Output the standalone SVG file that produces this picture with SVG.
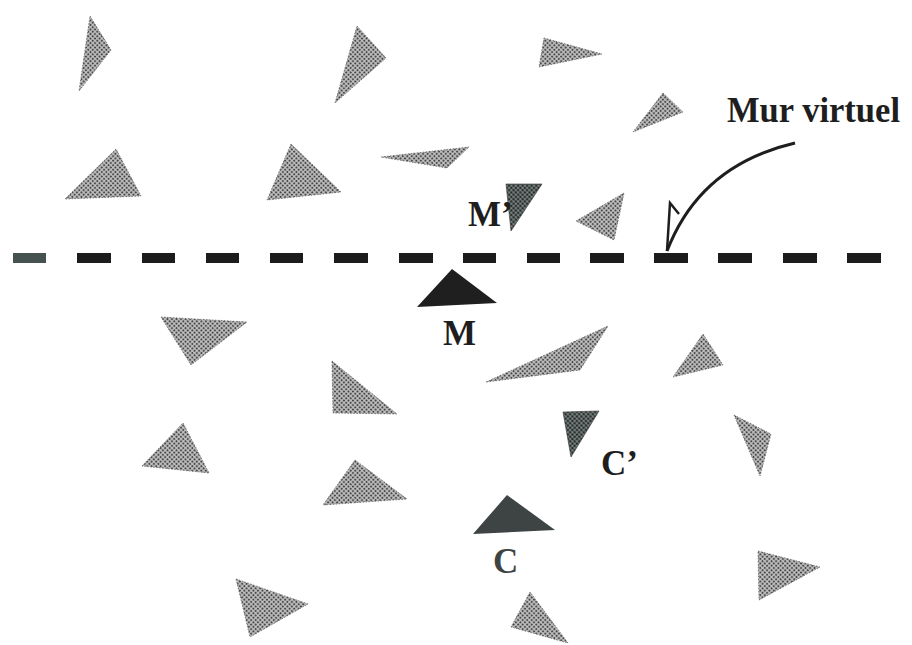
<svg xmlns="http://www.w3.org/2000/svg" width="912" height="645" viewBox="0 0 912 645">
  <defs>
    <!-- halftone screen used for the scattered obstacles -->
    <pattern id="ht" width="3.2" height="3.2" patternUnits="userSpaceOnUse" patternTransform="rotate(45)">
      <rect width="3.2" height="3.2" fill="#c0c0c0"/>
      <circle cx="1.6" cy="1.6" r="1.1" fill="#484848"/>
    </pattern>
    <!-- darker screen for the mirrored images M' and C' -->
    <pattern id="htDark" width="3.2" height="3.2" patternUnits="userSpaceOnUse" patternTransform="rotate(45)">
      <rect width="3.2" height="3.2" fill="#7a8583"/>
      <circle cx="1.6" cy="1.6" r="1.3" fill="#262b2a"/>
    </pattern>
  </defs>
  <style>
    .obst { fill: url(#ht); stroke: #666666; stroke-width: 0.8; stroke-dasharray: 1.5 1.5; }
    .mirror { fill: url(#htDark); stroke: #333333; stroke-width: 0.6; }
    .label { font-family: "Liberation Serif", "Times New Roman", serif; font-weight: bold; font-size: 35px; fill: #1e1e1e; }
    .wall { fill: #1c1c1c; }
  </style>
  <rect width="912" height="645" fill="#ffffff"/>

  <!-- scattered obstacles -->
  <g id="obstacles">
    <polygon class="obst" points="90,16 111,50 79,91"/>
    <polygon class="obst" points="357,26 386,58 335,103"/>
    <polygon class="obst" points="116,149 65,199 141,196"/>
    <polygon class="obst" points="291,144 267,200 341,192"/>
    <polygon class="obst" points="381,157 469,147 447,168"/>
    <polygon class="obst" points="544,38 602,54 539,67"/>
    <polygon class="obst" points="663,93 683,112 633,132"/>
    <polygon class="obst" points="624,193 576,221 614,240"/>
    <polygon class="obst" points="161,317 247,322 191,365"/>
    <polygon class="obst" points="332,361 397,414 333,413"/>
    <polygon class="obst" points="486,382 608,326 580,370"/>
    <polygon class="obst" points="703,334 723,365 673,377"/>
    <polygon class="obst" points="734,415 771,434 760,476"/>
    <polygon class="obst" points="183,423 209,473 142,466"/>
    <polygon class="obst" points="355,460 407,499 323,505"/>
    <polygon class="obst" points="758,551 820,567 759,600"/>
    <polygon class="obst" points="236,579 308,604 250,637"/>
    <polygon class="obst" points="530,592 511,627 568,643"/>
  </g>

  <!-- virtual wall: dashed line -->
  <g id="wall">
    <rect x="13" y="253" width="33" height="10" fill="#46524f"/>
    <rect class="wall" x="77" y="253" width="34" height="10"/>
    <rect class="wall" x="142" y="253" width="33" height="10"/>
    <rect class="wall" x="206" y="253" width="33" height="10"/>
    <rect class="wall" x="270" y="253" width="33" height="10"/>
    <rect class="wall" x="334" y="253" width="34" height="10"/>
    <rect class="wall" x="399" y="253" width="34" height="10"/>
    <rect class="wall" x="463" y="253" width="33" height="10"/>
    <rect class="wall" x="527" y="253" width="33" height="10"/>
    <rect class="wall" x="590" y="253" width="34" height="10"/>
    <rect class="wall" x="654" y="253" width="34" height="10"/>
    <rect class="wall" x="718" y="253" width="34" height="10"/>
    <rect class="wall" x="783" y="253" width="34" height="10"/>
    <rect class="wall" x="847" y="253" width="34" height="10"/>
  </g>

  <!-- M and its mirror image M' -->
  <g id="node-M">
    <polygon points="452,269 497,303 417,307" fill="#1f1f1f"/>
    <text class="label" x="443" y="345">M</text>
  </g>
  <g id="node-Mprime">
    <polygon class="mirror" points="506,184 542,184 511,231"/>
    <text class="label" x="468" y="226">M’</text>
  </g>

  <!-- C and its mirror image C' -->
  <g id="node-C">
    <polygon points="507,495 555,530 473,534" fill="#3e4443"/>
    <text class="label" x="493" y="573" style="fill:#3e4443">C</text>
  </g>
  <g id="node-Cprime">
    <polygon class="mirror" points="563,412 599,411 571,457"/>
    <text class="label" x="601" y="475">C’</text>
  </g>

  <!-- wall annotation -->
  <g id="node-label">
    <text class="label" x="727" y="122" textLength="173" lengthAdjust="spacingAndGlyphs">Mur virtuel</text>
  </g>
  <g id="connectors" fill="none" stroke="#1e1e1e" stroke-width="3" stroke-linejoin="miter">
    <path d="M795,143 Q700,165 667,251"/>
    <polyline points="667,251 670,203 679,214" stroke-width="2.5"/>
  </g>
</svg>
